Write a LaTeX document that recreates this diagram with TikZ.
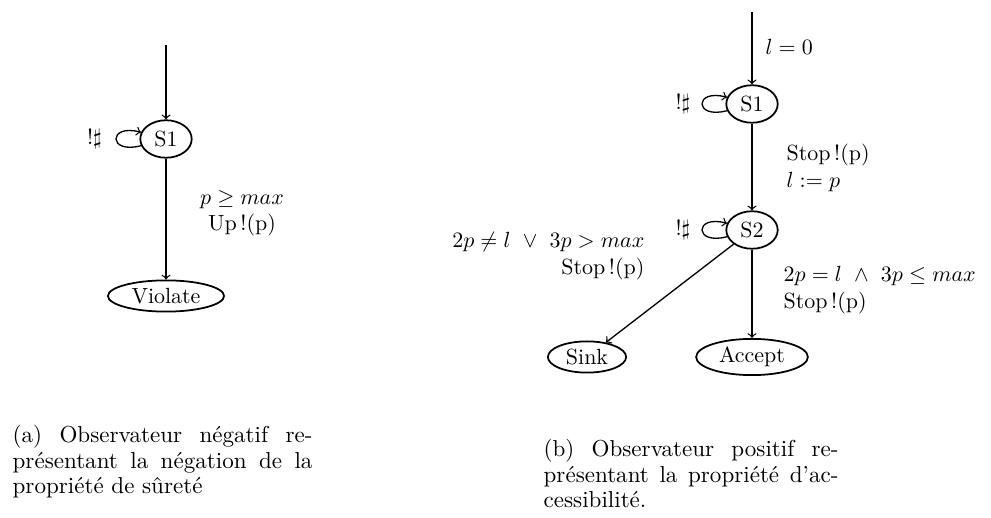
\documentclass[tikz,border=0pt]{standalone}
\usetikzlibrary{shapes.geometric}
\begin{document}
\begin{tikzpicture}[x=0.016cm, y=-0.016cm, semithick,
    state/.style={ellipse, draw, thick, inner xsep=3pt, inner ysep=0pt, minimum height=0.5cm},
    sstate/.style={state, minimum width=0.75cm, minimum height=0.6cm},
    lbl/.style={inner sep=0pt},
    caption/.style={inner sep=0pt, anchor=north west, align=justify,
      font=\fontsize{10.5}{11.5}\selectfont}]
  \useasboundingbox (0,0) rectangle (991,518);
  % observateur negatif
  \draw
    (166,45) coordinate (ia)
    (166,139) node[sstate] (a1) {S1}
    (166,296) node[state] (aviol) {Violate}
    (242,213) node[lbl, align=center] (aup) {$p \geq max$\\ Up\,!(p)};
  % observateur positif
  \draw
    (752,12) coordinate (ib)
    (752,104) node[sstate] (b1) {S1}
    (752,230) node[sstate] (b2) {S2}
    (587,357) node[state] (bsink) {Sink}
    (752,357) node[state, minimum height=0.58cm] (bacc) {Accept}
    (765,47) node[lbl, anchor=west] (binit) {$l = 0$}
    (786,168) node[lbl, anchor=west, align=left] (bstop) {Stop\,!(p)\\ $l := p$}
    (645,256) node[lbl, anchor=east, align=right] (bko) {$2p \neq l ~\vee~ 3p > max$\\ Stop\,!(p)}
    (783,290) node[lbl, anchor=west, align=left] (bok) {$2p = l ~\wedge~ 3p \leq max$\\ Stop\,!(p)};
  % legendes
  \draw
    (12,425) node[caption, text width=4.8cm] (capa)
      {(a) Observateur négatif re-\linebreak présentant la négation de la\linebreak propriété de sûreté}
    (543,439) node[caption, text width=4.72cm] (capb)
      {(b) Observateur positif re-\linebreak présentant la propriété d'ac-\linebreak cessibilité.};
  \begin{scope}[->]
    \draw (ia) to (a1);
    \draw (a1) to[out=195, in=165, distance=5.5mm]
      node[lbl, left, xshift=-0.22cm] (aloop) {$!\sharp$} (a1);
    \draw (a1) to (aviol);
    \draw (ib) to (b1);
    \draw (b1) to[out=195, in=165, distance=5.5mm]
      node[lbl, left, xshift=-0.18cm] (b1loop) {$!\sharp$} (b1);
    \draw (b1) to (b2);
    \draw (b2) to[out=195, in=165, distance=5.5mm]
      node[lbl, left, xshift=-0.18cm] (b2loop) {$!\sharp$} (b2);
    \draw (b2) to (bsink);
    \draw (b2) to (bacc);
  \end{scope}
\end{tikzpicture}
\end{document}
